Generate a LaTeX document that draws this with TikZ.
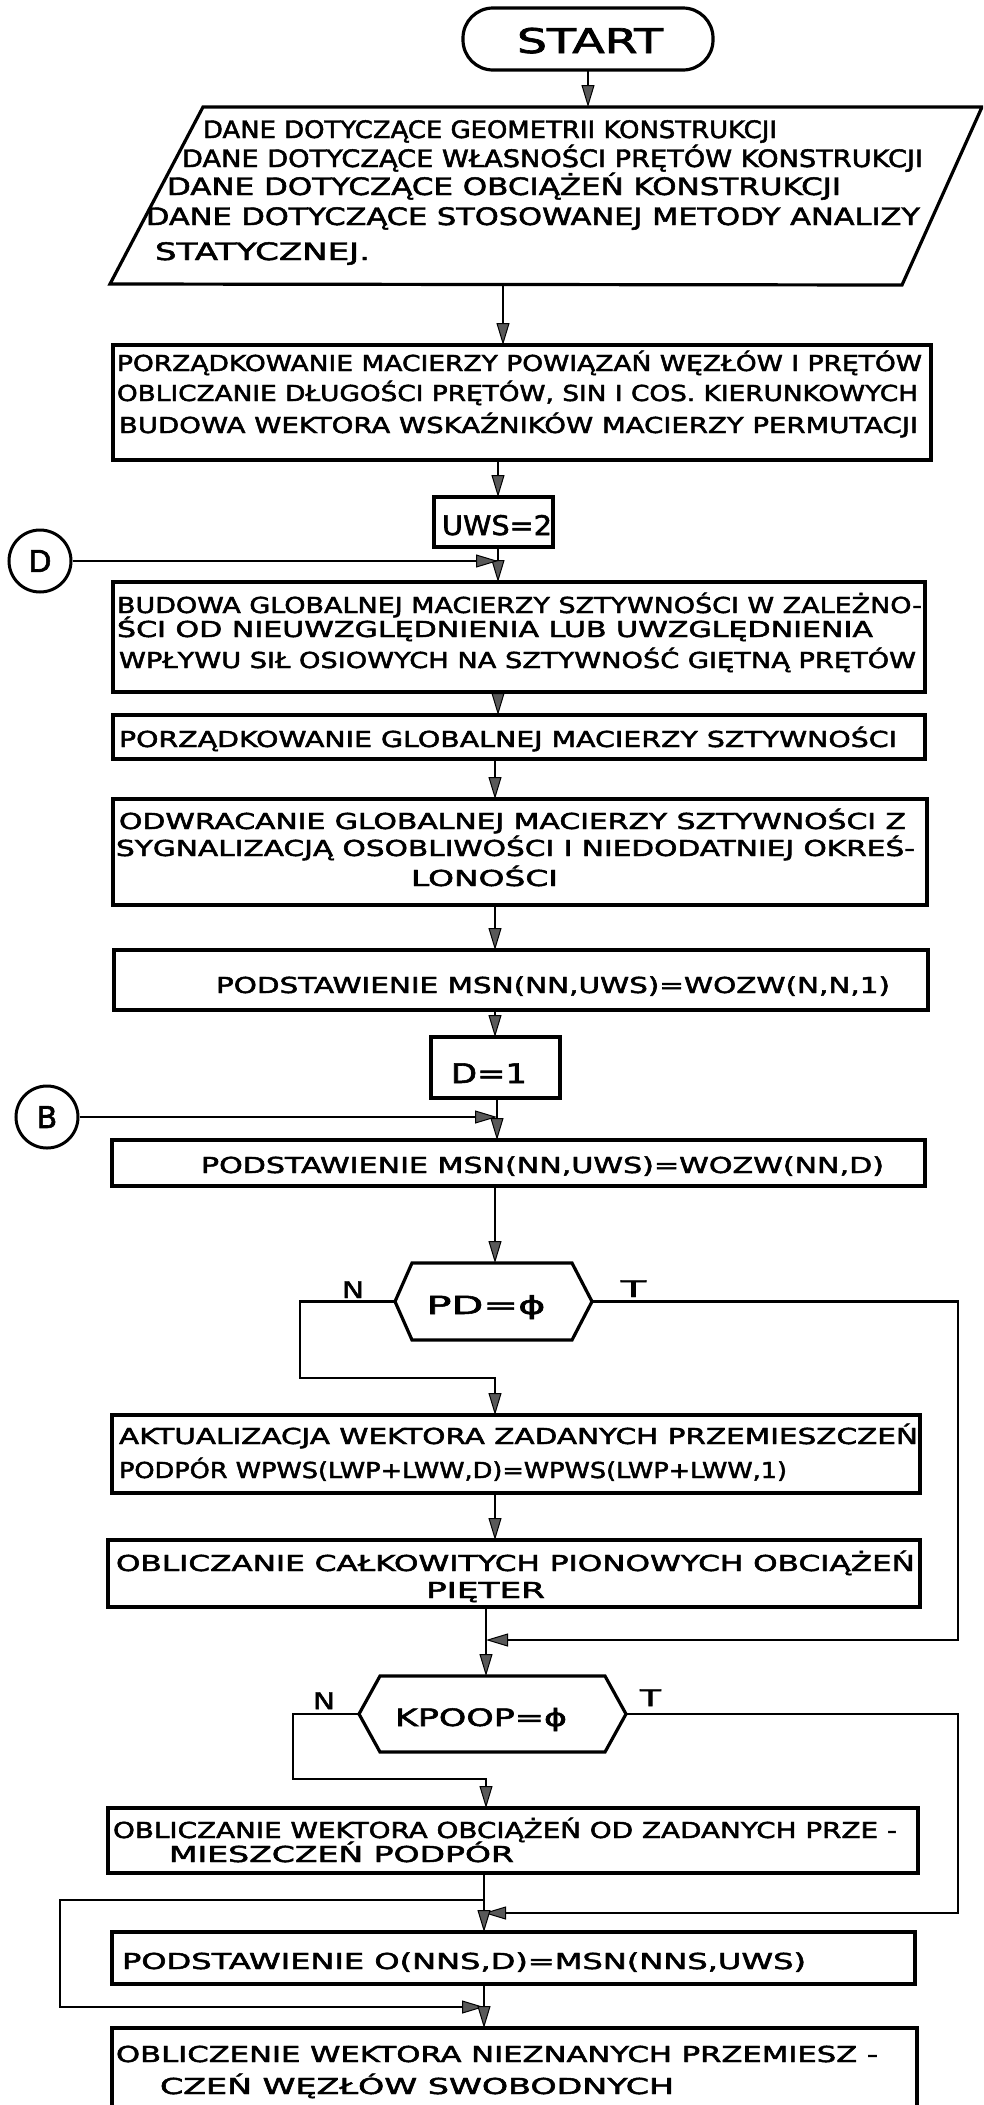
\documentclass[tikz,border=0pt]{standalone}
\usepackage{fontspec}
\setmainfont{DejaVu Sans}[FakeBold=2]
\usetikzlibrary{arrows.meta,fit}

% stretch a line of text horizontally to a given width (in pt)
\newlength\fitw
\newcommand\fitline[2]{\settowidth{\fitw}{#2}\pgfmathsetmacro\fitsx{#1/\fitw}\scalebox{\fitsx}[1]{#2}}
\newcommand\bodysize{\fontsize{22}{26}\selectfont}

\begin{document}
\begin{tikzpicture}[x=1pt, y=-1pt,
  frame/.style={draw, line width=3.2pt, inner sep=0pt, outer sep=0pt, rectangle},
  shapeonly/.style={inner sep=0pt, outer sep=0pt, rectangle},
  outline/.style={line width=3.2pt, line join=miter},
  link/.style={line width=2.8pt},
  arr/.style={link, -{Triangle[length=22pt, width=13pt, line width=1pt, fill=black!65]}},
  txt/.style={inner sep=0pt, outer sep=0pt, anchor=base west, font=\bodysize},
  ctxt/.style={inner sep=0pt, outer sep=0pt, anchor=base},
  conn/.style={draw, circle, line width=3pt, minimum size=62pt, inner sep=0pt, font=\fontsize{30}{36}\selectfont},
  lbl/.style={inner sep=0pt, outer sep=0pt, anchor=base west, font=\fontsize{23}{27}\selectfont}]

\useasboundingbox (0,0) rectangle (983,2105);
\clip (0,0) rectangle (983,2105);
\fill[white] (0,0) rectangle (983,2105);

% ---------- START ----------
\node[frame, rounded corners=30pt, fit={(463,8) (713,70)}] (start) {};
\node[ctxt, font=\fontsize{34}{40}\selectfont] (startlbl) at (590,53) {\fitline{146}{START}};

% ---------- input data (parallelogram) ----------
\coordinate (pTL) at (203,107);
\coordinate (pTR) at (982,107);
\coordinate (pBR) at (902,285);
\coordinate (pBL) at (110,284);
\draw[outline] (pTL) -- (pTR) -- (pBR) -- (pBL) -- cycle;
\node[shapeonly, fit={(110,107) (982,285)}] (para) {};
\node[txt, font=\fontsize{24}{28}\selectfont] (p1) at (203,138) {\fitline{574}{DANE DOTYCZĄCE GEOMETRII KONSTRUKCJI}};
\node[txt, font=\fontsize{24}{28}\selectfont] (p2) at (182,167) {\fitline{741}{DANE DOTYCZĄCE WŁASNOŚCI PRĘTÓW KONSTRUKCJI}};
\node[txt, font=\fontsize{24}{28}\selectfont] (p3) at (167,195) {\fitline{674}{DANE DOTYCZĄCE OBCIĄŻEŃ KONSTRUKCJI}};
\node[txt, font=\fontsize{24}{28}\selectfont] (p4) at (146,225) {\fitline{774}{DANE DOTYCZĄCE STOSOWANEJ METODY ANALIZY}};
\node[txt, font=\fontsize{24}{28}\selectfont] (p5) at (155,260) {\fitline{215}{STATYCZNEJ.}};

% ---------- process boxes ----------
\node[frame, fit={(113,345) (931,460)}] (b2) {};
\node[txt] (b2a) at (117,371) {\fitline{805}{PORZĄDKOWANIE MACIERZY POWIĄZAŃ WĘZŁÓW I PRĘTÓW}};
\node[txt] (b2b) at (117,401) {\fitline{801}{OBLICZANIE DŁUGOŚCI PRĘTÓW, SIN I COS. KIERUNKOWYCH}};
\node[txt] (b2c) at (119,433) {\fitline{799}{BUDOWA WEKTORA WSKAŹNIKÓW MACIERZY PERMUTACJI}};

\node[frame, fit={(434,497) (553,547)}] (uws) {};
\node[ctxt, font=\fontsize{27}{32}\selectfont] (uwslbl) at (497,535) {\fitline{110}{UWS=2}};

\node[frame, fit={(113,582) (925,692)}] (b3) {};
\node[txt] (b3a) at (117,613) {\fitline{805}{BUDOWA GLOBALNEJ MACIERZY SZTYWNOŚCI W ZALEŻNO-}};
\node[txt] (b3b) at (117,637) {\fitline{756}{ŚCI OD NIEUWZGLĘDNIENIA LUB UWZGLĘDNIENIA}};
\node[txt] (b3c) at (119,668) {\fitline{797}{WPŁYWU SIŁ OSIOWYCH NA SZTYWNOŚĆ GIĘTNĄ PRĘTÓW}};

\node[frame, fit={(113,715) (925,759)}] (b4) {};
\node[txt] (b4a) at (119,747) {\fitline{778}{PORZĄDKOWANIE GLOBALNEJ MACIERZY SZTYWNOŚCI}};

\node[frame, fit={(113,799) (927,905)}] (b5) {};
\node[txt] (b5a) at (119,829) {\fitline{787}{ODWRACANIE GLOBALNEJ MACIERZY SZTYWNOŚCI Z}};
\node[txt] (b5b) at (116,856) {\fitline{799}{SYGNALIZACJĄ OSOBLIWOŚCI I NIEDODATNIEJ OKREŚ-}};
\node[txt] (b5c) at (411,886) {\fitline{147}{LONOŚCI}};

\node[frame, fit={(114,950) (928,1010)}] (b6) {};
\node[txt] (b6a) at (216,993) {\fitline{674}{PODSTAWIENIE MSN(NN,UWS)=WOZW(N,N,1)}};

\node[frame, fit={(431,1037) (560,1098)}] (d1) {};
\node[ctxt, font=\fontsize{27}{32}\selectfont] (d1lbl) at (489,1083) {\fitline{76}{D=1}};

\node[frame, fit={(112,1140) (925,1186)}] (b7) {};
\node[txt] (b7a) at (201,1173) {\fitline{683}{PODSTAWIENIE MSN(NN,UWS)=WOZW(NN,D)}};

% decision PD = phi
\node[shapeonly, fit={(395,1263) (592,1340)}] (h1) {};
\draw[outline] ([xshift=17pt]h1.north west) -- ([xshift=-20pt]h1.north east) -- (h1.east)
  -- ([xshift=-20pt]h1.south east) -- ([xshift=17pt]h1.south west) -- (h1.west) -- cycle;
\node[ctxt, font=\fontsize{25}{30}\selectfont] (h1lbl) at (486,1314) {\fitline{119}{PD=ϕ}};
\node[lbl] (h1n) at (342,1298) {\fitline{22}{N}};
\node[lbl] (h1t) at (621,1297) {\fitline{25}{T}};

\node[frame, fit={(112,1415) (920,1493)}] (b8) {};
\node[txt] (b8a) at (119,1444) {\fitline{799}{AKTUALIZACJA WEKTORA ZADANYCH PRZEMIESZCZEŃ}};
\node[txt] (b8b) at (119,1478) {\fitline{668}{PODPÓR WPWS(LWP+LWW,D)=WPWS(LWP+LWW,1)}};

\node[frame, fit={(108,1540) (920,1607)}] (b9) {};
\node[txt] (b9a) at (116,1571) {\fitline{799}{OBLICZANIE CAŁKOWITYCH PIONOWYCH OBCIĄŻEŃ}};
\node[txt] (b9b) at (426,1598) {\fitline{119}{PIĘTER}};

% decision KPOOP = phi
\node[shapeonly, fit={(359,1676) (626,1752)}] (h2) {};
\draw[outline] ([xshift=21pt]h2.north west) -- ([xshift=-21pt]h2.north east) -- (h2.east)
  -- ([xshift=-21pt]h2.south east) -- ([xshift=21pt]h2.south west) -- (h2.west) -- cycle;
\node[ctxt, font=\fontsize{24}{29}\selectfont] (h2lbl) at (481,1726) {\fitline{172}{KPOOP=ϕ}};
\node[lbl] (h2n) at (313,1709) {\fitline{22}{N}};
\node[lbl] (h2t) at (640,1706) {\fitline{21}{T}};

\node[frame, fit={(108,1808) (918,1873)}] (b10) {};
\node[txt] (b10a) at (113,1838) {\fitline{784}{OBLICZANIE WEKTORA OBCIĄŻEŃ OD ZADANYCH PRZE -}};
\node[txt] (b10b) at (169,1862) {\fitline{345}{MIESZCZEŃ PODPÓR}};

\node[frame, fit={(112,1932) (915,1984)}] (b11) {};
\node[txt] (b11a) at (122,1969) {\fitline{684}{PODSTAWIENIE O(NNS,D)=MSN(NNS,UWS)}};

\node[frame, fit={(112,2028) (917,2140)}] (b12) {};
\node[txt] (b12a) at (116,2062) {\fitline{762}{OBLICZENIE WEKTORA NIEZNANYCH PRZEMIESZ -}};
\node[txt] (b12b) at (160,2094) {\fitline{514}{CZEŃ WĘZŁÓW SWOBODNYCH}};

% ---------- connectors on the left ----------
\node[conn] (dc) at (40,561) {D};
\node[conn] (bc) at (47,1117) {B};

% ---------- flow lines ----------
\coordinate (pin) at (588,107);
\coordinate (pout) at (503,285);
\coordinate (kA) at (498,0);
\coordinate (kB) at (495,0);
\coordinate (kC) at (497,0);
\coordinate (rx) at (958,0);
\coordinate (lx1) at (300,0);
\coordinate (lx2) at (293,0);
\coordinate (lx3) at (60,0);
\coordinate (n1) at (495,1378);
\coordinate (j1) at (486,1640);
\coordinate (n2) at (486,1779);
\coordinate (lp1) at (484,1900);
\coordinate (j2) at (484,1913);
\coordinate (lp2) at (484,2007);

\draw[arr] (start.south) -- (pin);
\draw[arr] (pout) -- (pout |- b2.north);
\draw[arr] (b2.south -| kA) -- (uws.north -| kA);
\draw[arr] (uws.south -| kA) -- (b3.north -| kA);
\draw[arr] (dc.east) -- (dc.east -| kA);
\draw[arr] (b3.south -| kA) -- (b4.north -| kA);
\draw[arr] (b4.south -| kB) -- (b5.north -| kB);
\draw[arr] (b5.south -| kB) -- (b6.north -| kB);
\draw[arr] (b6.south -| kB) -- (d1.north -| kB);
\draw[arr] (d1.south -| kC) -- (b7.north -| kC);
\draw[arr] (bc.east) -- (bc.east -| kC);
\draw[arr] (b7.south -| kB) -- (h1.north -| kB);

% PD = phi : N branch and T bypass
\draw[arr] (h1.west) -- (h1.west -| lx1) -- (lx1 |- n1) -- (n1) -- (b8.north -| n1);
\draw[arr] (h1.east) -- (h1.east -| rx) -- (rx |- j1) -- (j1);
\draw[arr] (b8.south -| n1) -- (b9.north -| n1);
\draw[arr] (b9.south -| j1) -- (h2.north -| j1);

% KPOOP = phi : N branch and T bypass
\draw[arr] (h2.west) -- (h2.west -| lx2) -- (lx2 |- n2) -- (n2) -- (b10.north -| n2);
\draw[arr] (h2.east) -- (h2.east -| rx) -- (rx |- j2) -- (j2);
\draw[arr] (b10.south -| lp1) -- (b11.north -| lp1);

% bypass round the substitution box
\draw[arr] (lp1) -- (lp1 -| lx3) -- (lx3 |- lp2) -- (lp2);
\draw[arr] (b11.south -| lp2) -- (b12.north -| lp2);

\end{tikzpicture}
\end{document}
